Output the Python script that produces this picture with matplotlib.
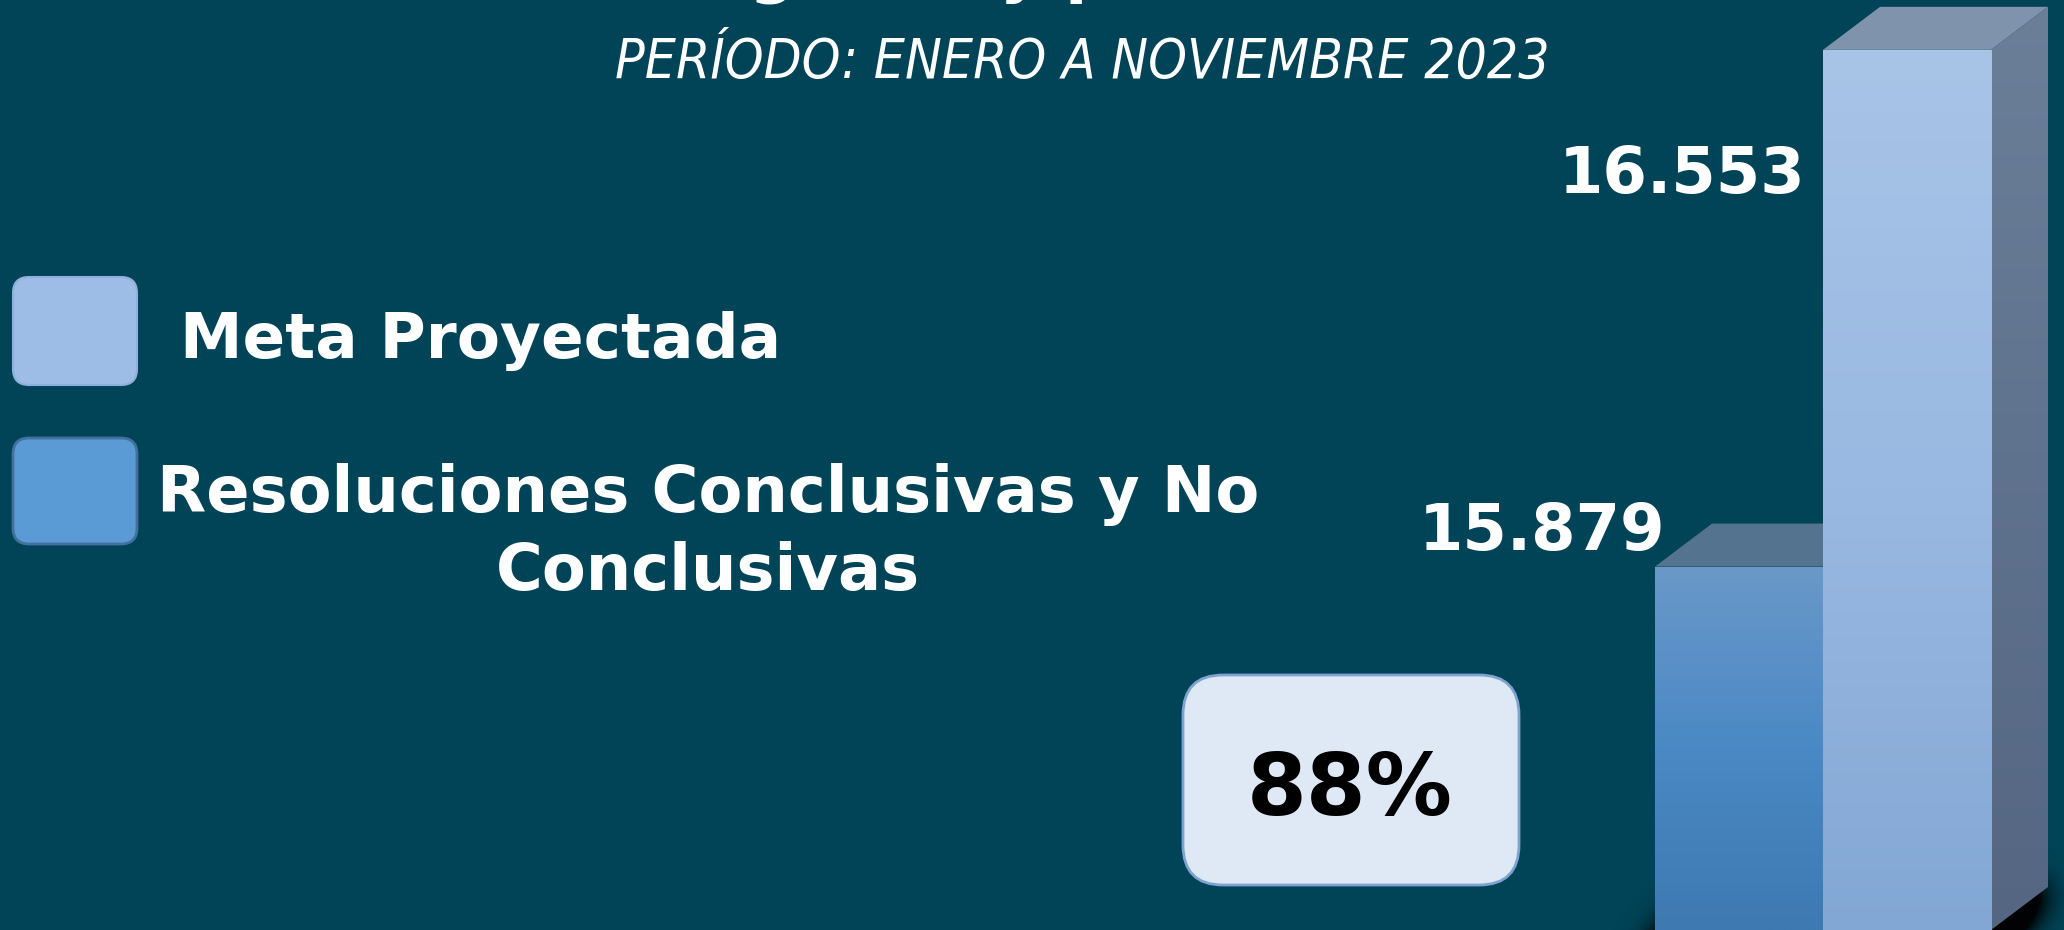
import numpy as np
import matplotlib
matplotlib.use("Agg")
import matplotlib.pyplot as plt
from matplotlib.colors import LinearSegmentedColormap
from matplotlib.patches import FancyBboxPatch, Polygon
from matplotlib.path import Path

# data
categories = ["Resoluciones Conclusivas y No Conclusivas", "Meta Proyectada"]
values = [15879, 16553]
value_labels = ["15.879", "16.553"]
percent_label = "88%"
title = "Meta asignada y planificada"
subtitle = "PERÍODO: ENERO A NOVIEMBRE 2023"

bg = "#014457"
W, H = 2064, 930

fig = plt.figure(figsize=(W / 100, H / 100), dpi=100)
fig.patch.set_facecolor(bg)

# pixel axes for text, legend, box and floor shadow
pax = fig.add_axes([0, 0, 1, 1])
pax.set_xlim(0, W)
pax.set_ylim(H, 0)
pax.axis("off")

# bar axes
ax = fig.add_axes([0, 0, 1, 1])
ax.patch.set_alpha(0)
ax.axis("off")
y_lo, y_hi = 15405, 16618
x_lo, x_hi = -10.351, 1.9345
ax.set_xlim(x_lo, x_hi)
ax.set_ylim(y_lo, y_hi)
ax.set_autoscale_on(False)

dx = 57 / 168.0                       # depth in x units
dy = 43 * (y_hi - y_lo) / H           # depth in y units

# floor shadow (blurred footprint)
xs = np.arange(1450, W)
ys = np.arange(760, H + 60)
gx, gy = np.meshgrid(xs, ys)
foot = Path([(1645, 960), (1991, 960), (2048, 887), (1702, 887)])
mask = foot.contains_points(np.c_[gx.ravel(), gy.ravel()]).reshape(gx.shape).astype(float)
k = np.exp(-np.arange(-50, 51) ** 2 / (2 * 16.0 ** 2))
k /= k.sum()
blur = np.apply_along_axis(lambda r: np.convolve(r, k, mode="same"), 1, mask)
blur = np.apply_along_axis(lambda c: np.convolve(c, k, mode="same"), 0, blur)
rgba = np.zeros(gx.shape + (4,))
rgba[..., 3] = np.clip(blur * 3.0, 0, 0.97)
pax.imshow(rgba, extent=[xs[0], xs[-1] + 1, ys[-1] + 1, ys[0]], interpolation="bilinear", zorder=0)
pax.set_xlim(0, W)
pax.set_ylim(H, 0)

front_cols = [["#6a98c9", "#4a89c5", "#3e79b1"], ["#a8c4e7", "#99b9e2", "#83a7d4"]]
top_cols = ["#54738f", "#7f93ad"]
side_cols = ["#6b7f99", "#546682"]

bars = ax.bar([0, 1], [v - y_lo for v in values], bottom=y_lo, width=1.0,
              color="none", edgecolor="none", zorder=2)
for i, (b, v) in enumerate(zip(bars, values)):
    x0, x1 = i - 0.5, i + 0.5
    # top face
    ax.add_patch(Polygon([(x0, v), (x1, v), (x1 + dx, v + dy), (x0 + dx, v + dy)],
                         closed=True, facecolor=top_cols[i], edgecolor="none", zorder=2 + 2 * i))
    # side face
    sgrad = np.linspace(0, 1, 256).reshape(-1, 1)
    side = Polygon([(x1, y_lo), (x1, v), (x1 + dx, v + dy), (x1 + dx, y_lo + dy)],
                   closed=True, facecolor="none", edgecolor="none", zorder=2 + 2 * i)
    ax.add_patch(side)
    im = ax.imshow(sgrad, extent=[x1, x1 + dx, y_lo, v + dy], aspect="auto",
                   cmap=LinearSegmentedColormap.from_list("s%d" % i, side_cols),
                   origin="upper", zorder=2 + 2 * i)
    im.set_clip_path(side)
    # front face
    grad = np.linspace(0, 1, 256).reshape(-1, 1)
    im = ax.imshow(grad, extent=[x0, x1, y_lo, v], aspect="auto",
                   cmap=LinearSegmentedColormap.from_list("f%d" % i, front_cols[i]),
                   origin="upper", zorder=3 + 2 * i)
    im.set_clip_path(b)
ax.set_xlim(x_lo, x_hi)
ax.set_ylim(y_lo, y_hi)

# value labels
pax.text(1665, 550, value_labels[0], color="white", fontsize=46, fontweight="bold",
         ha="right", va="baseline")
pax.text(1805, 193, value_labels[1], color="white", fontsize=46, fontweight="bold",
         ha="right", va="baseline")

# title (cut off at the top) and subtitle
pax.text(437, -10, title, color="white", fontsize=47, fontweight="bold",
         ha="left", va="baseline")
pax.text(1082, 78, subtitle, color="white", fontsize=39.5, style="italic",
         fontstretch="condensed", ha="center", va="baseline")

# legend
pax.add_patch(FancyBboxPatch((13 + 16, 277 + 16), 124 - 32, 108 - 32,
                             boxstyle="round,pad=16", facecolor="#9dbde6",
                             edgecolor="#8eb0dc", linewidth=1.5))
pax.add_patch(FancyBboxPatch((13 + 16, 438 + 16), 124 - 32, 106 - 32,
                             boxstyle="round,pad=16", facecolor="#5b9bd5",
                             edgecolor="#41719c", linewidth=2))
pax.text(180, 358, categories[1], color="white", fontsize=45.3, fontweight="bold",
         ha="left", va="baseline")
pax.text(708, 512, "Resoluciones Conclusivas y No", color="white", fontsize=46,
         fontweight="bold", ha="center", va="baseline")
pax.text(708, 590, "Conclusivas", color="white", fontsize=46,
         fontweight="bold", ha="center", va="baseline")

# percentage box
pax.add_patch(FancyBboxPatch((1183 + 40, 675 + 40), 336 - 80, 210 - 80,
                             boxstyle="round,pad=40", facecolor="#dfe9f5",
                             edgecolor="#7fa3d0", linewidth=2))
pax.text(1350, 815, percent_label, color="black", fontsize=62, fontweight="bold",
         ha="center", va="baseline")

fig.savefig("out.png", dpi=100, facecolor=bg)
